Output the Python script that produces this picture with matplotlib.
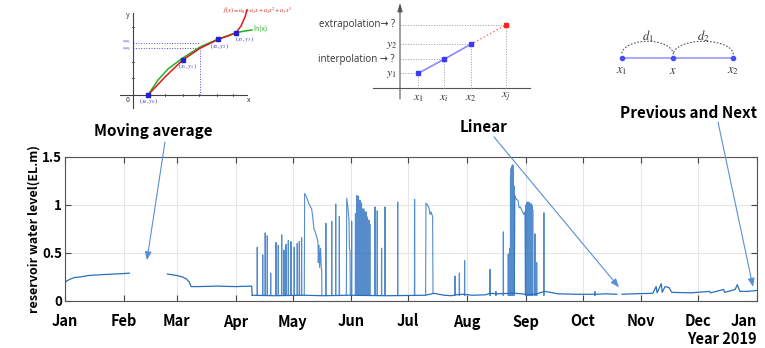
import numpy as np
import matplotlib.pyplot as plt
from matplotlib.patches import Arc

plt.rcParams['font.family'] = ['Noto Sans CJK KR', 'DejaVu Sans']
plt.rcParams['mathtext.fontset'] = 'stix'

W, H = 765, 348

# ---------------- data (day of year 2018 -> reservoir level, EL.m) ----------------
month_names = ['Jan', 'Feb', 'Mar', 'Apr', 'May', 'Jun', 'Jul',
               'Aug', 'Sep', 'Oct', 'Nov', 'Dec', 'Jan']
month_days = [31, 28, 31, 30, 31, 30, 31, 31, 30, 31, 30, 31]

jan_days = [0, 1, 3, 5, 8, 12, 16, 20, 25, 30, 34]
jan_level = [0.19, 0.21, 0.23, 0.245, 0.25, 0.265, 0.27, 0.275, 0.28, 0.285, 0.29]

mar_days = [54, 56, 59, 62, 64, 65.5, 66.5, 70, 80, 90, 98.5, 98.7]
mar_level = [0.28, 0.275, 0.265, 0.25, 0.23, 0.2, 0.15, 0.15, 0.155, 0.15, 0.155, 0.06]

base_days = [98.7, 110, 126, 136, 150, 170, 190, 194.6, 200, 204, 206, 210, 215,
             222, 224, 228, 235, 238, 243, 248, 253, 256, 260, 270, 280, 285, 291]
base_level = [0.06, 0.055, 0.06, 0.055, 0.06, 0.055, 0.06, 0.08, 0.06, 0.055, 0.065,
              0.07, 0.06, 0.065, 0.08, 0.075, 0.08, 0.08, 0.07, 0.07, 0.1, 0.09,
              0.075, 0.07, 0.07, 0.075, 0.07]

late_days = [293.8, 300, 310, 311.8, 312.3, 314.5, 315, 316.5, 318.6, 320, 330,
             340, 340.5, 347.4, 348, 353.5, 354.6, 356, 360, 365]
late_level = [0.07, 0.075, 0.08, 0.15, 0.085, 0.18, 0.09, 0.15, 0.14, 0.09, 0.085,
              0.1, 0.085, 0.12, 0.09, 0.12, 0.17, 0.1, 0.1, 0.11]

# short pulses: (day, peak)
spike_days = [101.4, 104.3, 105.6, 106.7, 108.5, 111.3, 112.5, 114.3, 115.5, 116.6,
              117.8, 119.2, 120.9, 122.5, 123.6, 124.8,
              137.6, 140.7, 142.8, 144.7, 151.2,
              153.2, 153.6, 154.0, 154.4, 154.8, 155.2, 155.6, 156.0, 156.4, 156.8,
              157.2, 157.6, 158.0, 158.4, 158.8, 159.2, 159.6, 160.0, 160.4, 160.8,
              163.5, 164.7, 167.0, 168.8, 175.5, 184.4,
              205.7, 208.0, 210.8, 224.2, 227.3, 231.2, 233.8, 234.6,
              235.0, 235.3, 235.6, 235.9, 236.2, 236.5, 236.8,
              243.1, 243.4, 243.7, 244.0, 244.3, 244.6, 244.9, 245.2, 245.5,
              245.8, 246.1, 246.4, 246.7,
              247.9, 248.8, 252.6, 279.5]
spike_peaks = [0.56, 0.48, 0.71, 0.68, 0.29, 0.61, 0.58, 0.69, 0.53, 0.59,
               0.63, 0.62, 0.56, 0.60, 0.62, 0.66,
               0.81, 0.83, 1.01, 0.88, 0.83,
               0.91, 0.80, 1.10, 0.95, 1.09, 0.70, 1.05, 0.90, 1.02, 0.96,
               0.75, 0.96, 0.93, 0.60, 0.93, 0.88, 0.86, 0.50, 0.84, 0.80,
               0.98, 0.94, 0.55, 0.98, 1.03, 1.06,
               0.26, 0.29, 0.42, 0.33, 0.10, 0.72, 0.49, 0.55,
               1.30, 1.38, 1.40, 1.41, 1.42, 1.40, 1.20,
               1.00, 0.95, 1.03, 1.02, 0.98, 1.03, 0.96, 1.02, 1.00,
               0.97, 1.01, 0.99, 0.95,
               0.70, 0.40, 0.92, 0.10]
spike_foot = 0.06

# longer events drawn point by point
may_days = [126.2, 126.4, 127.5, 128.5, 129.5, 130.1, 130.8, 131.3, 132.0, 133.4,
            133.6, 134.0, 134.3, 134.8, 135.2, 135.4, 135.5]
may_level = [0.06, 1.12, 1.08, 1.02, 0.98, 0.96, 0.85, 0.75, 0.72, 0.62,
             0.40, 0.58, 0.35, 0.55, 0.33, 0.33, 0.06]
jun_days = [148.4, 148.6, 149.2, 149.8, 150.0, 150.3, 150.5]
jun_level = [0.06, 1.07, 0.98, 0.84, 0.55, 0.53, 0.06]
jul_days = [190.2, 190.4, 191.2, 192.0, 192.5, 193.0, 193.9, 194.1]
jul_level = [0.06, 1.02, 1.00, 0.97, 0.90, 0.93, 0.88, 0.08]
aug_days = [237.0, 237.3, 238.0, 238.9, 239.5, 240.2, 240.8, 241.4, 242.0, 242.6, 242.8]
aug_level = [0.08, 1.10, 1.06, 1.05, 0.97, 0.98, 0.95, 0.93, 0.90, 0.93, 0.08]

# ---------------- figure ----------------
fig = plt.figure(figsize=(W / 100, H / 100), dpi=100)
ax = fig.add_axes([65 / W, 1 - 301 / H, 692 / W, 144 / H])

line_c = '#2a6fbf'
for dd, lv in [(jan_days, jan_level), (mar_days, mar_level),
               (base_days, base_level), (late_days, late_level)]:
    ax.plot(dd, lv, color=line_c, lw=0.9)

sx, sy = [], []
for d, p in zip(spike_days, spike_peaks):
    sx += [d - 0.1, d - 0.04, d + 0.04, d + 0.1, np.nan]
    sy += [spike_foot, p, p, spike_foot, np.nan]
ax.plot(sx, sy, color=line_c, lw=0.8, alpha=0.8)
for dd, lv in [(may_days, may_level), (jun_days, jun_level),
               (jul_days, jul_level), (aug_days, aug_level)]:
    ax.plot(dd, lv, color=line_c, lw=0.8, alpha=0.8)

month_starts = np.concatenate([[0], np.cumsum(month_days)])
ax.set_xlim(0, 365)
ax.set_ylim(0, 1.5)
ax.set_xticks(month_starts)
ax.set_xticklabels(month_names, fontweight='bold', fontsize=10.5)
ax.get_xticklabels()[-1].set_horizontalalignment('right')
ax.set_yticks([0, 0.5, 1, 1.5])
ax.set_yticklabels(['0', '0.5', '1', '1.5'], fontweight='bold', fontsize=9.5)
ax.tick_params(direction='in', top=True, right=True, length=4, color='#444444')
ax.tick_params(axis='x', pad=9)
ax.tick_params(axis='y', pad=2)
ax.grid(True, color='#e6e6e6', lw=0.8)
for s in ax.spines.values():
    s.set_color('#555555')
    s.set_linewidth(0.8)
ax.set_ylabel('reservoir water level(EL.m)', fontweight='bold', fontsize=9)
ax.yaxis.set_label_coords(-0.035, 0.5)

fig.text(757 / W, 1 - 339 / H, 'Year 2019', ha='right', va='center',
         fontweight='bold', fontsize=10.5)

# annotations
arrow_c = '#5b8fd4'
notes = [('Moving average', (153, 131), (43.2, 0.425), (165, 142)),
         ('Linear', (484, 127), (292.2, 0.143), (494, 137)),
         ('Previous and Next', (688, 113), (362.9, 0.148), (718, 122))]
for txt, (tx, ty), tip, (axp, ayp) in notes:
    fig.text(tx / W, 1 - ty / H, txt, ha='center', va='center',
             fontweight='bold', fontsize=11)
    ax.annotate('', xy=tip, xycoords='data', xytext=(axp, H - ayp),
                textcoords='figure pixels', annotation_clip=False,
                arrowprops=dict(arrowstyle='-|>,head_length=0.5,head_width=0.2',
                                color=arrow_c, lw=0.8, shrinkA=0, shrinkB=0))


def px_axes(left, top, right, bottom, ox, oy):
    a = fig.add_axes([left / W, 1 - bottom / H, (right - left) / W, (bottom - top) / H])
    a.set_xlim(left - ox, right - ox)
    a.set_ylim(oy - bottom, oy - top)
    a.axis('off')
    return a


# ---------------- inset 1: polynomial vs ln ----------------
pt_x = [15, 49.7, 85.3, 103]
pt_y = [0, 35, 55.7, 62.3]
red_x = [15, 32, 49.7, 67, 85.3, 95, 103, 108, 112, 114]
red_y = [0, 18, 35, 46.7, 55.7, 59, 62.3, 69, 78, 85]
grn_x = [15, 25, 35, 49.7, 67, 85.3, 103, 112, 119]
grn_y = [0, 15, 26, 37, 48, 56, 62.3, 64, 65]

a1 = px_axes(110, 0, 265, 112, 133, 95)
a1.plot([-13, 114], [0, 0], color='#444444', lw=0.8)
a1.plot([0, 0], [-13, 82], color='#444444', lw=0.8)
for t in [16, 32, 50, 66, 84, 100]:
    a1.plot([t, t], [-1.2, 1.2], color='#444444', lw=0.6)
for t in [17, 33, 68]:
    a1.plot([-1.2, 1.2], [t, t], color='#444444', lw=0.6)
a1.plot([0, 67], [51.7, 51.7], color='#4a4ad8', lw=0.7, ls=':')
a1.plot([0, 67], [46.7, 46.7], color='#4a4ad8', lw=0.7, ls=':')
a1.plot([67, 67], [0, 46.7], color='#4a4ad8', lw=0.7, ls=':')
a1.plot(grn_x, grn_y, color='#22b022', lw=1.1)
a1.plot(red_x, red_y, color='#e01818', lw=1.1)
a1.plot(pt_x, pt_y, 's', color='#2020d0', ms=2.5, ls='none')
for (px_, py_), lab in zip([(15, -6), (54, 29), (86, 49), (111, 56)],
                           ['$(x_0,y_0)$', '$(x_1,y_1)$', '$(x_2,y_2)$', '$(x_3,y_3)$']):
    a1.text(px_, py_, lab, color='#3030c0', fontsize=4.5, ha='center', va='center')
a1.text(-3, 80, 'y', fontsize=5, ha='right', va='center', color='#333333')
a1.text(114, -4.5, 'x', fontsize=5, ha='left', va='center', color='#333333')
a1.text(-4, -4.5, '0', fontsize=5, ha='right', va='center', color='#333333')
a1.text(-2, 49.2, '$a_3 a_2$\n$a_1 a_0$', fontsize=3, ha='right', va='center',
        color='#3030c0', linespacing=0.9)
a1.text(90, 85, '$f(x)=a_0+a_1x+a_2x^2+a_3x^3$', fontsize=4.3, color='#e01818',
        ha='left', va='center')
a1.text(120, 66, 'ln(x)', fontsize=5, color='#22b022', ha='left', va='center')

# ---------------- inset 2: interpolation / extrapolation ----------------
ip_x = [18.3, 44, 70.7, 106]
ip_y = [14.7, 28.7, 43.7, 63]
ip_lab = ['$x_1$', '$x_i$', '$x_2$', '$x_j$']

a2 = px_axes(300, 0, 535, 105, 400, 88)
a2.annotate('', xy=(0, 85), xytext=(0, -11),
            arrowprops=dict(arrowstyle='-|>,head_length=0.5,head_width=0.15',
                            color='#555555', lw=0.8, shrinkA=0, shrinkB=0))
a2.plot([-27, 130], [0, 0], color='#555555', lw=0.8)
for xv, yv in zip(ip_x, ip_y):
    a2.plot([0, xv], [yv, yv], color='#999999', lw=0.7, ls=':')
    a2.plot([xv, xv], [0, yv], color='#999999', lw=0.7, ls=':')
a2.plot(ip_x[:3], ip_y[:3], color='#8a8aff', lw=1.2)
a2.plot(ip_x[2:], ip_y[2:], color='#ff6a6a', lw=1.0, ls=':')
a2.plot(ip_x[:3], ip_y[:3], 's', color='#3a3aff', ms=2.2, ls='none')
a2.plot(ip_x[3:], ip_y[3:], 's', color='#ff2020', ms=2.2, ls='none')
for xv, lab in zip(ip_x, ip_lab):
    a2.text(xv, -9, lab, fontsize=8.5, ha='center', va='center', color='#333333')
a2.text(-3, ip_y[2], '$y_2$', fontsize=8.5, ha='right', va='center', color='#333333')
a2.text(-3, ip_y[0], '$y_1$', fontsize=8.5, ha='right', va='center', color='#333333')
a2.text(-5, ip_y[3], 'extrapolation\u2192 ?', fontsize=7, ha='right', va='center',
        color='#333333', family=['Open Sans', 'DejaVu Sans'])
a2.text(-5, ip_y[1], 'interpolation \u2192 ?', fontsize=7, ha='right', va='center',
        color='#333333', family=['Open Sans', 'DejaVu Sans'])

# ---------------- inset 3: previous / next ----------------
nb_x = [0, 51.6, 111.6]
nb_lab = ['$x_1$', '$x$', '$x_2$']

a3 = px_axes(600, 20, 760, 85, 621.7, 58.3)
a3.plot(nb_x, [0, 0, 0], color='#9a9aff', lw=1.2)
a3.plot(nb_x, [0, 0, 0], 'o', color='#4a4aff', ms=3, ls='none')
for x0, x1, lab in [(nb_x[0], nb_x[1], '$d_1$'), (nb_x[1], nb_x[2], '$d_2$')]:
    a3.add_patch(Arc(((x0 + x1) / 2, 4), x1 - x0, 26, theta1=0, theta2=180,
                     color='#555555', lw=0.8, ls=(0, (1.5, 1.5))))
    a3.text((x0 + x1) / 2, 22, lab, fontsize=9, ha='center', va='center', color='#333333')
for xv, lab in zip(nb_x, nb_lab):
    a3.text(xv, -12, lab, fontsize=9, ha='center', va='center', color='#333333')

fig.savefig('out.png', dpi=100)
